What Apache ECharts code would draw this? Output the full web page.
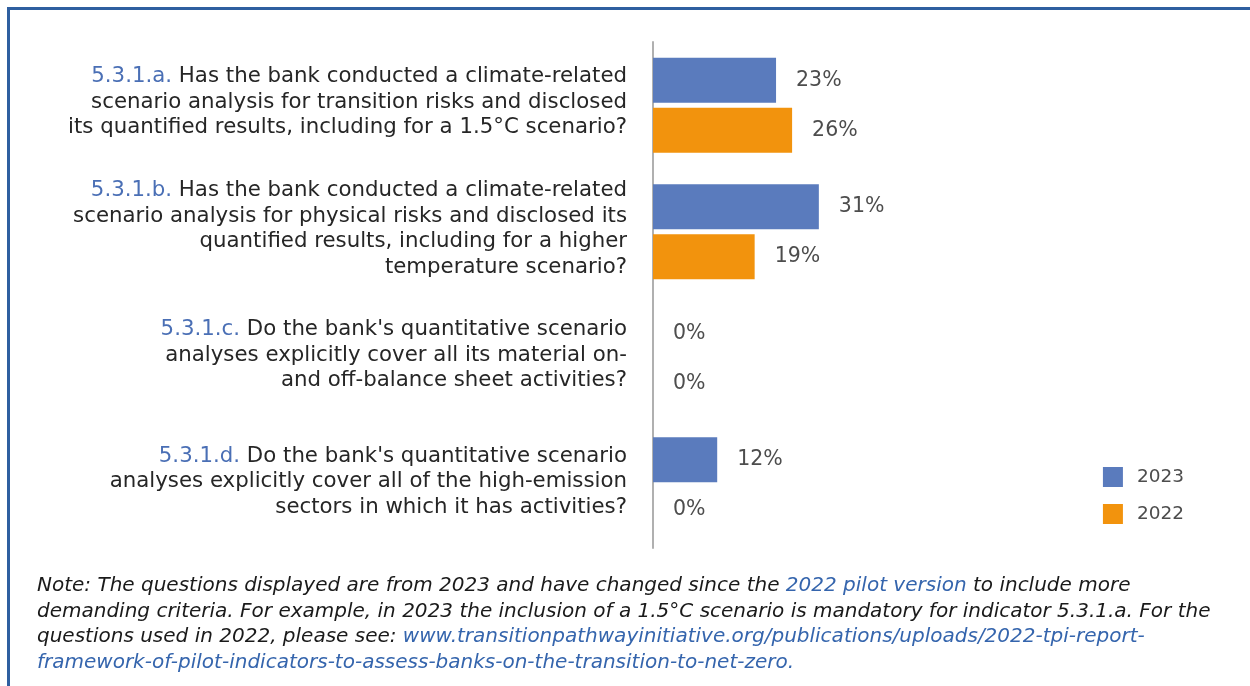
<!DOCTYPE html>
<html>
<head>
<meta charset="utf-8">
<script src="https://cdn.jsdelivr.net/npm/echarts@6/dist/echarts.min.js"></script>
<style>
html,body{margin:0;padding:0;background:#fff;}
#main{width:1250px;height:686px;}
</style>
</head>
<body>
<div id="main"></div>
<script>
const codes = ['5.3.1.a.', '5.3.1.b.', '5.3.1.c.', '5.3.1.d.'];
const questions = [
  ' Has the bank conducted a climate-related\nscenario analysis for transition risks and disclosed\nits quantified results, including for a 1.5°C scenario?',
  ' Has the bank conducted a climate-related\nscenario analysis for physical risks and disclosed its\nquantified results, including for a higher\ntemperature scenario?',
  ' Do the bank\'s quantitative scenario\nanalyses explicitly cover all its material on-\nand off-balance sheet activities?',
  ' Do the bank\'s quantitative scenario\nanalyses explicitly cover all of the high-emission\nsectors in which it has activities?'
];
const values2023 = [23, 31, 0, 12];
const values2022 = [26, 19, 0, 0];
const seriesNames = ['2023', '2022'];

const FONT = 'DejaVu Sans';
const chart = echarts.init(document.getElementById('main'));

function richLabel(i) {
  const lines = questions[i].split('\n');
  let out = '{c|' + codes[i] + '}{q|' + lines[0] + '}';
  for (let k = 1; k < lines.length; k++) out += '\n{q|' + lines[k] + '}';
  return out;
}

chart.setOption({
  animation: false,
  backgroundColor: '#ffffff',
  textStyle: { fontFamily: FONT },
  grid: { left: 653, right: 62, top: 42, bottom: 138, containLabel: false },
  legend: {
    orient: 'vertical',
    right: 61,
    top: 462,
    itemWidth: 20,
    itemHeight: 20,
    itemGap: 17,
    icon: 'rect',
    textStyle: { fontSize: 18.5, color: '#4d4d4d', fontFamily: FONT, padding: [0, 0, 0, 9] },
    data: seriesNames
  },
  xAxis: {
    type: 'value', min: 0, max: 100,
    show: false, splitLine: { show: false }
  },
  yAxis: {
    type: 'category',
    inverse: true,
    data: codes,
    axisLine: { show: true, lineStyle: { color: '#b0b0b0', width: 2 } },
    axisTick: { show: false },
    axisLabel: {
      margin: 26,
      align: 'right',
      padding: [0, 0, 6, 0],
      formatter: function (v, i) { return richLabel(i); },
      rich: {
        c: { color: '#4a6fb5', fontSize: 21.3, fontFamily: FONT, lineHeight: 25.5 },
        q: { color: '#262626', fontSize: 21.3, fontFamily: FONT, lineHeight: 25.5 }
      }
    }
  },
  series: [
    {
      name: seriesNames[0], type: 'bar', data: values2023,
      barWidth: 45, barGap: '11%', barCategoryGap: '25%',
      itemStyle: { color: '#5a7bbd' },
      label: { show: true, position: 'right', distance: 20, formatter: '{c}%', fontSize: 20.5, color: '#4d4d4d', fontFamily: FONT, padding: [0, 0, 3, 0] }
    },
    {
      name: seriesNames[1], type: 'bar', data: values2022,
      barWidth: 45, barGap: '11%', barCategoryGap: '25%',
      itemStyle: { color: '#f2930d' },
      label: { show: true, position: 'right', distance: 20, formatter: '{c}%', fontSize: 20.5, color: '#4d4d4d', fontFamily: FONT }
    }
  ],
  graphic: [
    { type: 'rect', shape: { x: 7, y: 7, width: 1243, height: 3 }, style: { fill: '#2f5fa0' } },
    { type: 'rect', shape: { x: 7, y: 7, width: 3, height: 679 }, style: { fill: '#2f5fa0' } },
    {
      type: 'text', left: 37, top: 576,
      style: {
        text: '{n|Note: The questions displayed are from 2023 and have changed since the }{l|2022 pilot version}{n| to include more}\n' +
              '{n|demanding criteria. For example, in 2023 the inclusion of a 1.5°C scenario is mandatory for indicator 5.3.1.a. For the}\n' +
              '{n|questions used in 2022, please see: }{l|www.transitionpathwayinitiative.org/publications/uploads/2022-tpi-report-}\n' +
              '{l|framework-of-pilot-indicators-to-assess-banks-on-the-transition-to-net-zero.}',
        rich: {
          n: { fontSize: 20, fontStyle: 'italic', fill: '#1a1a1a', fontFamily: FONT, lineHeight: 25.5 },
          l: { fontSize: 20, fontStyle: 'italic', fill: '#3565ad', fontFamily: FONT, lineHeight: 25.5 }
        }
      }
    }
  ]
});
</script>
</body>
</html>
